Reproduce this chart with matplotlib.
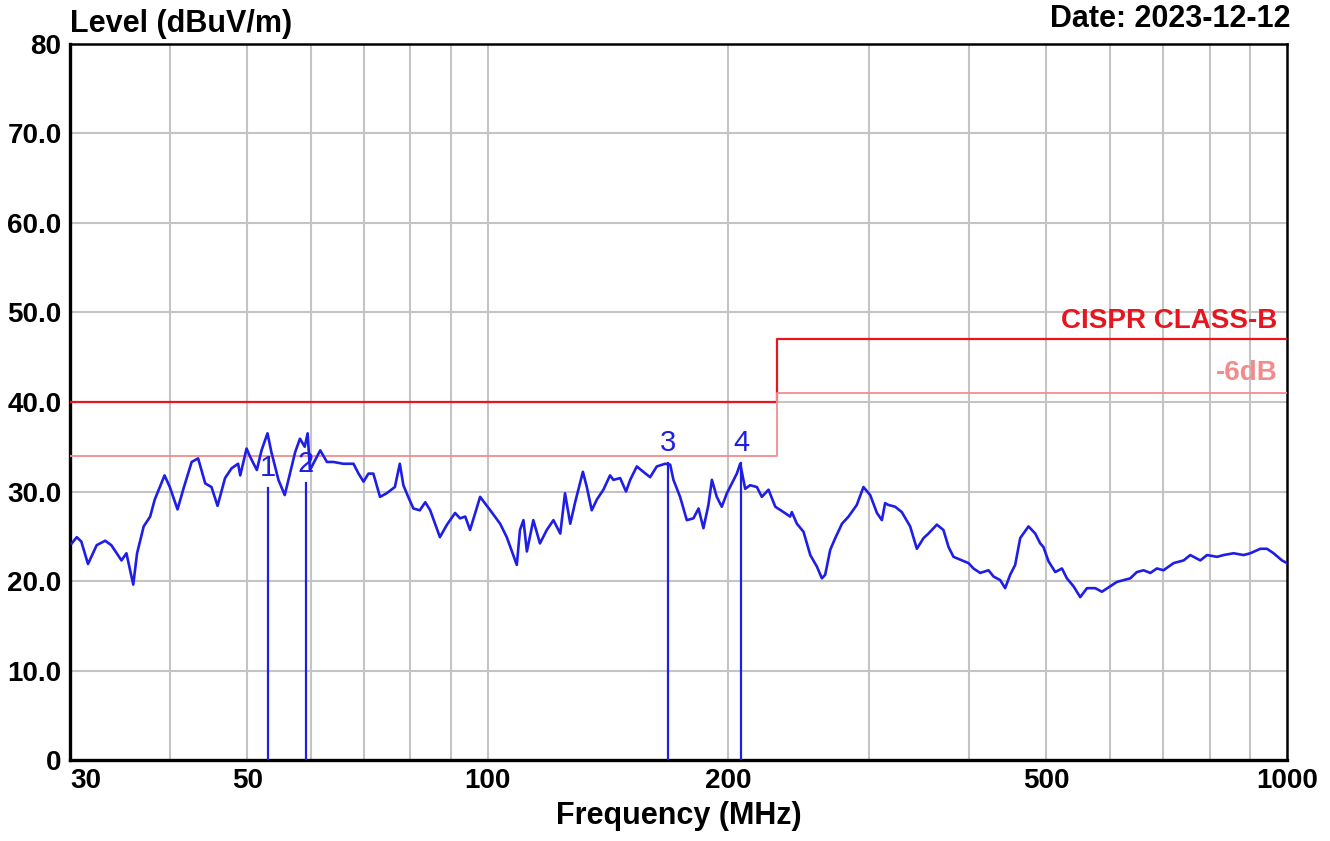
import matplotlib
matplotlib.use("Agg")
import matplotlib.pyplot as plt

plt.rcParams['font.family'] = ['Liberation Sans', 'DejaVu Sans']

# scan trace (MHz, dBuV/m)
freq = [30.15, 30.6, 31.0, 31.6, 32.4, 33.2, 33.8, 34.8, 35.3, 36.0,
        36.4, 37.1, 37.8, 38.3, 39.4, 40.0, 40.9, 41.6, 42.6, 43.4,
        44.3, 45.1, 45.9, 46.9, 47.8, 48.7, 49.0, 49.9, 50.4, 51.4,
        52.1, 53.0, 53.6, 54.7, 55.7, 56.3, 57.4, 58.2, 59.0, 59.5,
        59.9, 60.8, 61.7, 62.9, 64.1, 65.9, 67.9, 68.9, 69.9, 70.9,
        71.9, 73.3, 74.7, 76.5, 77.6, 78.4, 79.5, 80.7, 82.2, 83.5,
        84.7, 87.1, 88.9, 91.0, 92.3, 93.7, 95.0, 97.8, 100.7, 103.6,
        105.6, 108.7, 109.7, 110.8, 111.9, 114.0, 116.2, 118.5, 120.8, 123.2,
        124.9, 126.8, 128.6, 131.5, 133.0, 134.9, 136.9, 139.5, 142.2, 143.6,
        146.4, 148.9, 150.7, 153.6, 156.5, 159.6, 162.7, 166.7, 169.1, 170.7,
        174.0, 177.4, 180.8, 183.5, 186.1, 188.8, 190.7, 193.4, 196.2, 199.1,
        202.0, 204.9, 206.9, 209.9, 212.9, 217.1, 220.2, 224.5, 228.9, 234.4,
        238.9, 240.1, 243.6, 248.3, 253.2, 258.1, 261.8, 264.3, 268.2, 272.1,
        277.4, 282.7, 289.5, 295.1, 300.9, 306.8, 311.2, 314.1, 317.1, 323.3,
        329.6, 337.6, 344.2, 350.9, 355.9, 364.6, 371.6, 377.1, 382.5, 391.9,
        399.4, 405.2, 413.1, 423.1, 429.3, 437.6, 443.9, 450.4, 456.9, 463.6,
        474.8, 484.1, 491.1, 495.7, 503.0, 512.8, 522.8, 530.3, 540.6, 551.1,
        561.9, 575.5, 586.6, 600.8, 612.6, 624.4, 636.6, 648.8, 661.4, 674.3,
        687.4, 700.5, 721.2, 742.3, 756.7, 778.9, 794.1, 817.3, 832.9, 857.3,
        882.3, 899.5, 925.9, 943.8, 962.0, 985.5, 1000.0]
level = [24.2, 24.9, 24.4, 21.9, 24.0, 24.5, 24.0, 22.3, 23.1, 19.6,
         23.1, 26.1, 27.2, 29.1, 31.8, 30.5, 28.0, 30.3, 33.3, 33.7,
         30.9, 30.5, 28.4, 31.5, 32.6, 33.1, 31.8, 34.8, 33.9, 32.4,
         34.6, 36.5, 34.4, 31.3, 29.6, 31.3, 34.4, 35.9, 35.0, 36.5,
         32.4, 33.5, 34.6, 33.3, 33.3, 33.1, 33.1, 32.0, 31.1, 32.0,
         32.0, 29.4, 29.8, 30.5, 33.1, 30.7, 29.4, 28.1, 27.9, 28.8,
         27.9, 24.9, 26.3, 27.6, 27.0, 27.2, 25.7, 29.4, 27.9, 26.4,
         24.9, 21.8, 25.7, 26.8, 23.3, 26.8, 24.2, 25.7, 26.8, 25.3,
         29.8, 26.4, 28.8, 32.2, 30.5, 27.9, 29.1, 30.2, 31.8, 31.3,
         31.5, 30.0, 31.3, 32.8, 32.2, 31.6, 32.8, 33.1, 33.0, 31.3,
         29.4, 26.8, 27.0, 28.1, 25.9, 28.5, 31.3, 29.4, 28.3, 29.8,
         30.9, 32.0, 33.1, 30.3, 30.7, 30.5, 29.4, 30.2, 28.3, 27.7,
         27.2, 27.7, 26.4, 25.5, 22.9, 21.6, 20.3, 20.7, 23.5, 24.8,
         26.4, 27.2, 28.5, 30.5, 29.6, 27.6, 26.8, 28.7, 28.5, 28.3,
         27.7, 26.1, 23.6, 24.8, 25.3, 26.3, 25.7, 23.8, 22.7, 22.3,
         22.0, 21.4, 20.9, 21.2, 20.5, 20.1, 19.2, 20.7, 21.8, 24.8,
         26.1, 25.3, 24.2, 23.8, 22.2, 21.0, 21.4, 20.3, 19.4, 18.2,
         19.2, 19.2, 18.8, 19.4, 19.9, 20.1, 20.3, 21.0, 21.2, 20.9,
         21.4, 21.2, 22.0, 22.3, 22.9, 22.3, 22.9, 22.7, 22.9, 23.1,
         22.9, 23.1, 23.6, 23.6, 23.1, 22.3, 22.0]

# limit lines
limit_freq = [30, 230, 230, 1000]
limit_b = [40, 40, 47, 47]
limit_b6 = [34, 34, 41, 41]

# marked peaks
mark_no = ['1', '2', '3', '4']
mark_freq = [53.1, 59.2, 168.0, 207.5]
mark_level = [30.4, 30.9, 33.2, 33.2]

xtick_vals = [30, 50, 100, 200, 500, 1000]
ytick_vals = [0, 10, 20, 30, 40, 50, 60, 70, 80]
ytick_text = ['0', '10.0', '20.0', '30.0', '40.0', '50.0', '60.0', '70.0', '80']
grid_x = [40, 50, 60, 70, 80, 90, 100, 200, 300, 400, 500, 600, 700, 800, 900]

blue = '#1e1ee6'
red = '#e8141e'
pink = '#f28c8c'

fig = plt.figure(figsize=(13.3, 8.41), dpi=100)
ax = fig.add_axes([0.0526, 0.0963, 0.9151, 0.8514])
ax.set_xscale('log')
ax.set_xlim(30, 1000)
ax.set_ylim(0, 80)

# grid by hand so it sits on exact decade steps
for g in grid_x:
    ax.axvline(g, color='#c4c4c4', lw=1.5, zorder=1)
for g in ytick_vals[1:-1]:
    ax.axhline(g, color='#c4c4c4', lw=1.5, zorder=1)

ax.plot(limit_freq, limit_b, color=red, lw=1.6, zorder=3)
ax.plot(limit_freq, limit_b6, color=pink, lw=1.3, zorder=3)
ax.plot(freq, level, color=blue, lw=1.9, zorder=4)

for n, f, l in zip(mark_no, mark_freq, mark_level):
    ax.plot([f, f], [0, l], color=blue, lw=1.6, zorder=4)
    ax.text(f, l + 2.2, n, color=blue, fontsize=21, ha='center', va='center', zorder=5)

ax.text(0.992, 47.6, 'CISPR CLASS-B', color=red, fontsize=20, fontweight='bold',
        ha='right', va='bottom', transform=ax.get_yaxis_transform())
ax.text(0.992, 41.8, '-6dB', color=pink, fontsize=20, fontweight='bold',
        ha='right', va='bottom', transform=ax.get_yaxis_transform())

ax.set_xticks(xtick_vals)
ax.set_xticklabels([str(v) for v in xtick_vals], fontsize=20, fontweight='bold')
ax.xaxis.set_minor_locator(matplotlib.ticker.NullLocator())
ax.get_xticklabels()[0].set_ha('left')
ax.set_yticks(ytick_vals)
ax.set_yticklabels(ytick_text, fontsize=20, fontweight='bold')
ax.tick_params(length=0, pad=6)

for s in ax.spines.values():
    s.set_linewidth(1.8)
ax.spines['left'].set_linewidth(2.4)
ax.spines['bottom'].set_linewidth(2.4)

ax.set_xlabel('Frequency (MHz)', fontsize=22, fontweight='bold', labelpad=5)
fig.text(0.0526, 0.972, 'Level (dBuV/m)', fontsize=22, fontweight='bold', ha='left', va='center')
fig.text(0.970, 0.978, 'Date: 2023-12-12', fontsize=22, fontweight='bold', ha='right', va='center')

fig.savefig('out.png', dpi=100)
